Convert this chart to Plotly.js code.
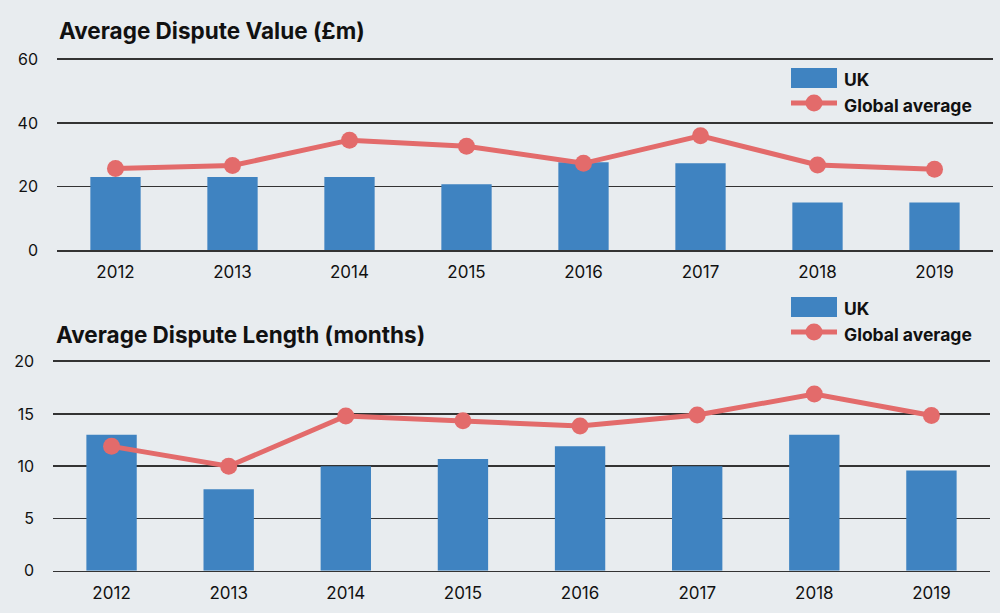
<!DOCTYPE html>
<html>
<head>
<meta charset="utf-8">
<script src="https://cdn.plot.ly/plotly-3.0.1.min.js"></script>
<style>html,body{margin:0;padding:0;background:#e8ecef;}#chart{width:1000px;height:613px;}</style>
</head>
<body>
<div id="chart"></div>
<script>
const years = ['2012','2013','2014','2015','2016','2017','2018','2019'];
const valueUK = [23, 23, 23, 20.7, 27.6, 27.3, 15, 15];
const valueGlobal = [25.7, 26.6, 34.6, 32.7, 27.3, 36, 26.8, 25.4];
const lengthUK = [13, 7.8, 10, 10.7, 11.9, 10, 13, 9.6];
const lengthGlobal = [11.9, 10, 14.8, 14.35, 13.85, 14.9, 16.9, 14.85];
const seriesNames = ['UK', 'Global average'];

const BAR = '#3f83c1', LINE = '#e36b6b', BG = '#e8ecef', GRID = '#333';
const FONT = 'Inter, Roboto, "Liberation Sans", sans-serif';
const W = 1000, H = 613;
const px = v => v / W, py = v => 1 - v / H;

const traces = [
  {type:'bar', x:years, y:valueUK, name:seriesNames[0], marker:{color:BAR, line:{width:0}}, width:0.43, xaxis:'x', yaxis:'y', showlegend:false},
  {type:'scatter', mode:'lines+markers', x:years, y:valueGlobal, name:seriesNames[1], line:{color:LINE, width:5}, marker:{color:LINE, size:17}, xaxis:'x', yaxis:'y', showlegend:false},
  {type:'bar', x:years, y:lengthUK, name:seriesNames[0], marker:{color:BAR, line:{width:0}}, width:0.43, xaxis:'x2', yaxis:'y2', showlegend:false},
  {type:'scatter', mode:'lines+markers', x:years, y:lengthGlobal, name:seriesNames[1], line:{color:LINE, width:5}, marker:{color:LINE, size:17}, xaxis:'x2', yaxis:'y2', showlegend:false}
];

const xcommon = {type:'category', showgrid:false, zeroline:false, showline:true, mirror:true, linecolor:GRID, linewidth:1.5, ticks:'', tickfont:{family:FONT, size:17, color:'#111'}, ticklabelstandoff:6, fixedrange:true};
const ycommon = {showgrid:true, gridcolor:GRID, gridwidth:1.5, zeroline:false, showline:false, ticks:'', tickfont:{family:FONT, size:16, color:'#111'}, ticklabelstandoff:18, fixedrange:true};

// custom legend (large swatches like the reference)
function legendShapes(top) {
  const lineY = top + 35;
  return [
    {type:'rect', xref:'paper', yref:'paper', x0:px(791), x1:px(837), y0:py(top), y1:py(top+20), fillcolor:BAR, line:{width:0}, layer:'above'},
    {type:'line', xref:'paper', yref:'paper', x0:px(791), x1:px(837), y0:py(lineY), y1:py(lineY), line:{color:LINE, width:5}, layer:'above'},
    {type:'circle', xref:'paper', yref:'paper', x0:px(805.5), x1:px(822.5), y0:py(lineY-8.5), y1:py(lineY+8.5), fillcolor:LINE, line:{width:0}, layer:'above'}
  ];
}
function legendTexts(top) {
  const f = {family:FONT, size:17.5, color:'#111', weight:'bold'};
  return [
    {text:seriesNames[0], xref:'paper', yref:'paper', x:px(842), y:py(top+11), xanchor:'left', yanchor:'middle', showarrow:false, font:f},
    {text:seriesNames[1], xref:'paper', yref:'paper', x:px(842), y:py(top+37), xanchor:'left', yanchor:'middle', showarrow:false, font:f}
  ];
}

const layout = {
  width:W, height:H,
  paper_bgcolor:BG, plot_bgcolor:BG,
  margin:{l:0, r:0, t:0, b:0},
  showlegend:false,
  font:{family:FONT, color:'#111'},
  title:{text:'Average Dispute Value (£m)', x:0.059, xanchor:'left', xref:'paper', y:py(31), yanchor:'middle', yref:'paper', font:{family:FONT, size:22.5, color:'#111', weight:'bold'}},
  xaxis:Object.assign({}, xcommon, {domain:[0.057, 0.993], anchor:'y'}),
  yaxis:Object.assign({}, ycommon, {domain:[py(250), py(59.5)], range:[0,60], tickvals:[0,20,40,60], anchor:'x'}),
  xaxis2:Object.assign({}, xcommon, {domain:[0.053, 0.990], anchor:'y2'}),
  yaxis2:Object.assign({}, ycommon, {domain:[py(570.7), py(361.7)], range:[0,20], tickvals:[0,5,10,15,20], anchor:'x2'}),
  shapes:[].concat(legendShapes(68), legendShapes(297)),
  annotations:[
    {text:'Average Dispute Length (months)', xref:'paper', yref:'paper', x:0.054, y:py(334), xanchor:'left', yanchor:'middle', showarrow:false, font:{family:FONT, size:22.5, color:'#111', weight:'bold'}}
  ].concat(legendTexts(68), legendTexts(297))
};

Plotly.newPlot('chart', traces, layout, {displayModeBar:false, staticPlot:true});
</script>
</body>
</html>
